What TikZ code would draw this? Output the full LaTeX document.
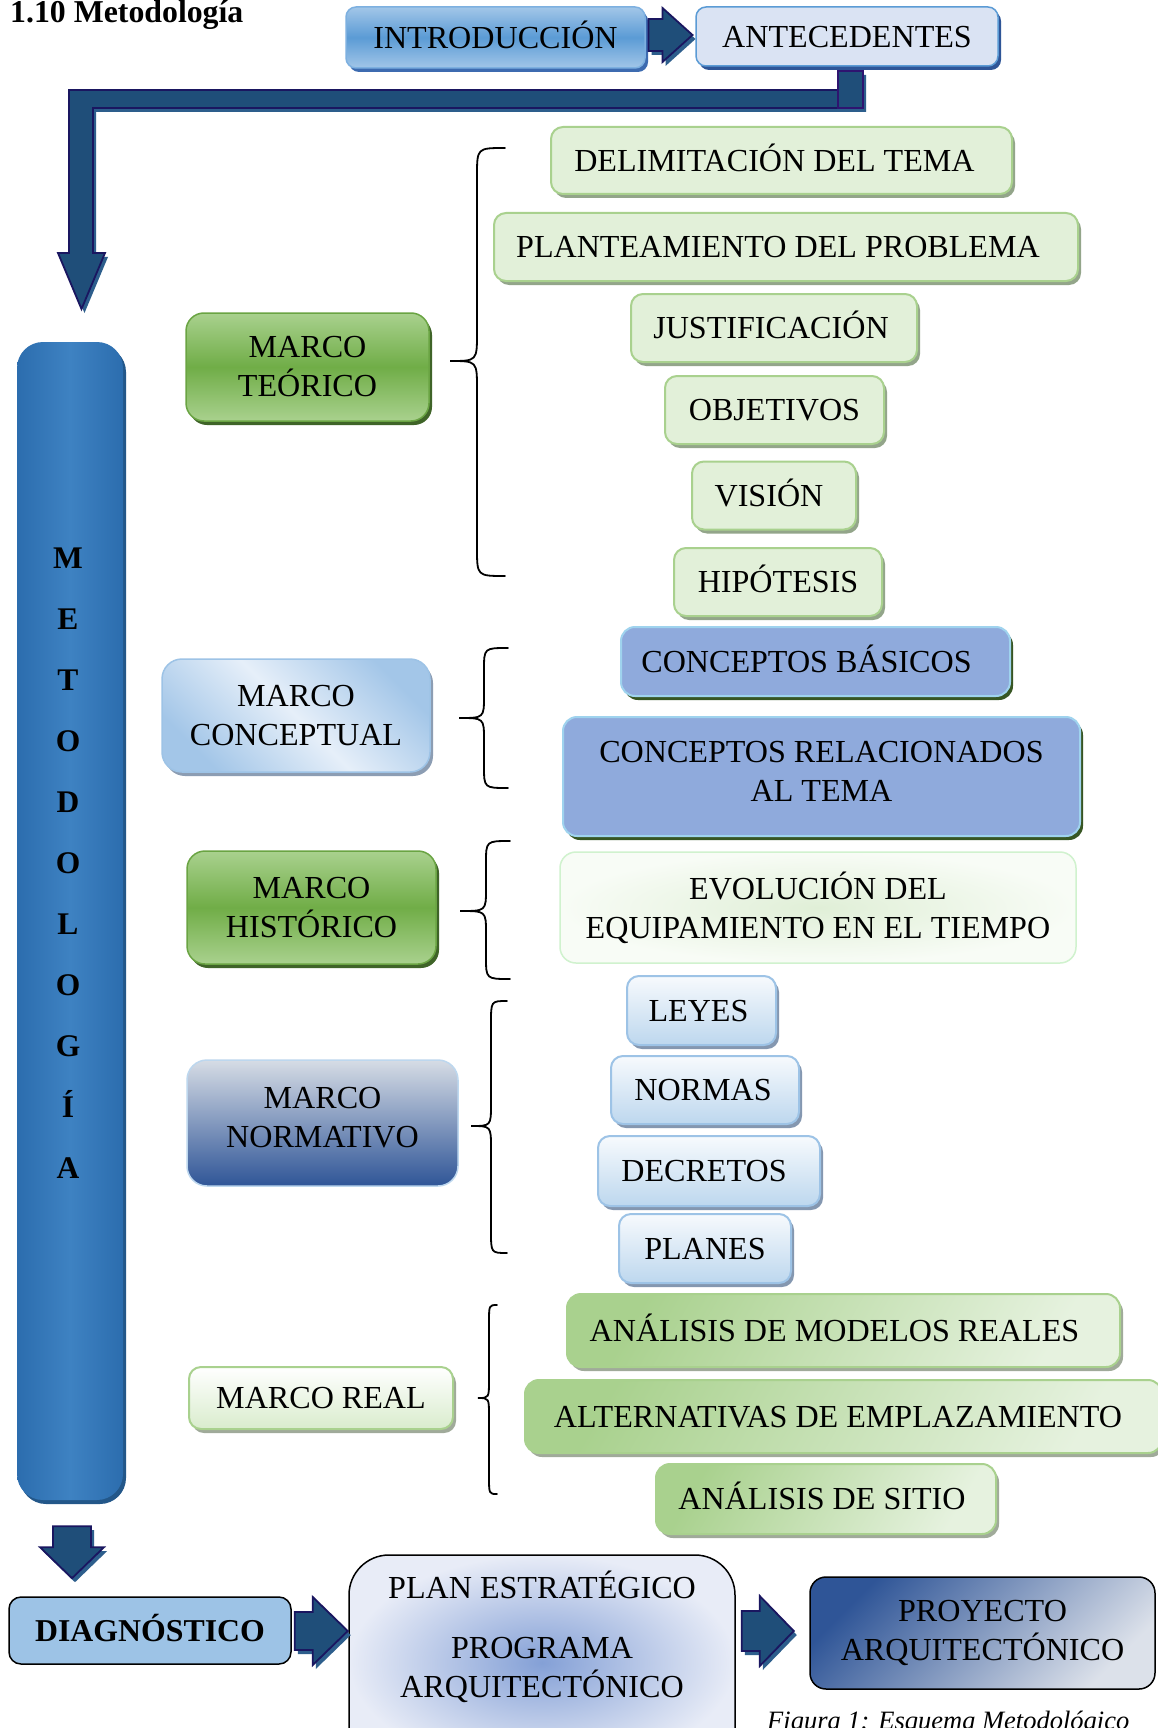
\documentclass[tikz,border=0pt]{standalone}
\usepackage{fontspec}
\setmainfont{Liberation Serif}
\usetikzlibrary{shadows,calc}
\definecolor{ArrFill}{HTML}{1F4E79}
\definecolor{ArrLine}{HTML}{1A1660}
\definecolor{ArrShad}{HTML}{2D5E8C}
\definecolor{Purp}{HTML}{2E1470}
\definecolor{IntroTop}{HTML}{A2C6E8}
\definecolor{IntroMid}{HTML}{5B9BD5}
\definecolor{IntroLine}{HTML}{7DB0E0}
\definecolor{IntroShad}{HTML}{3D6BB0}
\definecolor{AnteFill}{HTML}{DAE3F3}
\definecolor{AnteLine}{HTML}{5B9BD5}
\definecolor{AnteShad}{HTML}{2E5597}
\definecolor{GFill}{HTML}{E2F0D9}
\definecolor{GLine}{HTML}{A9D18E}
\definecolor{GShad}{HTML}{93A58A}
\definecolor{MGTop}{HTML}{A9D18E}
\definecolor{MGMid}{HTML}{70AD47}
\definecolor{MGLine}{HTML}{6AA443}
\definecolor{MGShad}{HTML}{3F6428}
\definecolor{CBFill}{HTML}{8FAADC}
\definecolor{CBLine}{HTML}{9FD3EE}
\definecolor{CBShad}{HTML}{375623}
\definecolor{MCLight}{HTML}{E6EFF9}
\definecolor{MCBlue}{HTML}{A3C6E8}
\definecolor{MCLine}{HTML}{9DC3E6}
\definecolor{MCShad}{HTML}{8C9DB3}
\definecolor{EvInner}{HTML}{E0EFD7}
\definecolor{EvOuter}{HTML}{F8FCF6}
\definecolor{EvLine}{HTML}{D0F2CE}
\definecolor{LTop}{HTML}{F7FAFD}
\definecolor{LBot}{HTML}{BDD7EE}
\definecolor{LLine}{HTML}{9DC3E6}
\definecolor{LShad}{HTML}{8497B0}
\definecolor{NTop}{HTML}{D6DCE5}
\definecolor{NBot}{HTML}{2F5597}
\definecolor{NLine}{HTML}{BDD7EE}
\definecolor{RTop}{HTML}{FFFFFF}
\definecolor{RBot}{HTML}{D9ECCD}
\definecolor{RShad}{HTML}{A0AA9A}
\definecolor{AGreen}{HTML}{A9D18E}
\definecolor{ALight}{HTML}{E6F2DF}
\definecolor{MetA}{HTML}{2C6DAE}
\definecolor{MetB}{HTML}{3E82C2}
\definecolor{MetShad}{HTML}{235789}
\definecolor{DiagFill}{HTML}{9DC3E6}
\definecolor{PlanOuter}{HTML}{E8ECF7}
\definecolor{PlanInner}{HTML}{84A0D6}
\definecolor{PTop}{HTML}{2F5597}
\definecolor{PBot}{HTML}{DCE1EA}

\newcommand{\rarrow}[5]{% #1 center, #2 half length, #3 head length, #4 shaft half, #5 head half
  \begin{scope}[shift={($(#1)+(3,4)$)}]
    \fill[arrshd] (-#2,-#4) -- (#2-#3,-#4) -- (#2-#3,-#5) -- (#2,0) -- (#2-#3,#5) -- (#2-#3,#4) -- (-#2,#4) -- cycle;
  \end{scope}
  \begin{scope}[shift={(#1)}]
    \draw[arrst] (-#2,-#4) -- (#2-#3,-#4) -- (#2-#3,-#5) -- (#2,0) -- (#2-#3,#5) -- (#2-#3,#4) -- (-#2,#4) -- cycle;
  \end{scope}}
\newcommand{\darrow}[5]{% #1 center, #2 half length, #3 head length, #4 shaft half, #5 head half
  \begin{scope}[shift={($(#1)+(3,4)$)}]
    \fill[arrshd] (-#4,-#2) -- (-#4,#2-#3) -- (-#5,#2-#3) -- (0,#2) -- (#5,#2-#3) -- (#4,#2-#3) -- (#4,-#2) -- cycle;
  \end{scope}
  \begin{scope}[shift={(#1)}]
    \draw[arrst] (-#4,-#2) -- (-#4,#2-#3) -- (-#5,#2-#3) -- (0,#2) -- (#5,#2-#3) -- (#4,#2-#3) -- (#4,-#2) -- cycle;
  \end{scope}}
\newcommand{\bracedraw}[7]{% xe xv xt ytop ytip ybot r
  \draw[bracel] (#1,#4) .. controls (#2,#4) .. (#2,#4+#7) -- (#2,#5-#7) .. controls (#2,#5) .. (#3,#5) .. controls (#2,#5) .. (#2,#5+#7) -- (#2,#6-#7) .. controls (#2,#6) .. (#1,#6);}

\begin{document}
\begin{tikzpicture}[x=1pt,y=-1pt,
  tx/.style={inner sep=0pt, font=\fontsize{32.1}{39}\selectfont},
  oneline/.style={text height=21.3pt, text depth=0pt},
  twoline/.style={align=center},
  sz/.style 2 args={minimum width=#1pt, minimum height=#2pt},
  shd/.style={drop shadow={shadow xshift=3pt, shadow yshift=-4pt, fill=#1, opacity=1}},
  introbox/.style={tx, rounded corners=10pt, draw=IntroLine, line width=1.5pt, top color=IntroTop, bottom color=IntroTop, middle color=IntroMid, shd=IntroShad},
  antebox/.style={tx, rounded corners=10pt, draw=AnteLine, line width=1.5pt, fill=AnteFill, shd=AnteShad},
  gbox/.style={tx, oneline, rounded corners=12pt, draw=GLine, line width=2pt, fill=GFill, shd=GShad},
  mgbox/.style={tx, twoline, rounded corners=18pt, draw=MGLine, line width=1.5pt, top color=MGTop, bottom color=MGTop, middle color=MGMid, shd=MGShad},
  cbbox/.style={tx, rounded corners=14pt, draw=CBLine, line width=2pt, fill=CBFill, shd=CBShad},
  mcbox/.style={tx, twoline, rounded corners=20pt, draw=MCLine, line width=1.5pt, top color=MCBlue, bottom color=MCBlue, middle color=MCLight, shading angle=-45, shd=MCShad},
  evbox/.style={tx, twoline, rounded corners=16pt, draw=EvLine, line width=1.5pt, inner color=EvInner, outer color=EvOuter},
  lbox/.style={tx, oneline, rounded corners=12pt, draw=LLine, line width=2pt, top color=LTop, bottom color=LBot, shd=LShad},
  nbox/.style={tx, twoline, rounded corners=20pt, draw=NLine, line width=1.5pt, top color=NTop, bottom color=NBot},
  rbox/.style={tx, oneline, rounded corners=12pt, draw=GLine, line width=2pt, top color=RTop, bottom color=RBot, shd=RShad},
  abox/.style={tx, oneline, rounded corners=14pt, draw=GLine, line width=2pt, top color=AGreen, bottom color=ALight, shading angle=60, shd=RShad},
  metbox/.style={rounded corners=26pt, left color=MetA, right color=MetA, middle color=MetB, shd=MetShad},
  letter/.style={tx, font=\fontsize{31.5}{39}\selectfont\bfseries, oneline},
  diagbox/.style={tx, font=\fontsize{31.8}{39}\selectfont\bfseries, oneline, rounded corners=12pt, draw=black, line width=1.5pt, fill=DiagFill},
  planbox/.style={rounded corners=40pt, draw=black, line width=1.5pt, inner color=PlanInner, outer color=PlanOuter},
  proybox/.style={tx, twoline, rounded corners=16pt, draw=black, line width=1.5pt, top color=PTop, bottom color=PBot, shading angle=45},
  bracel/.style={line width=1.8pt, line cap=round},
  arrst/.style={fill=ArrFill, draw=ArrLine, line width=1.8pt, line join=miter},
  arrshd/.style={fill=ArrShad}
]
\useasboundingbox (0,0) rectangle (1158,1728);
\clip (0,0) rectangle (1158,1728);
\fill[white] (0,0) rectangle (1158,1728);

% title
\node[tx, font=\fontsize{31.8}{37}\selectfont\bfseries, anchor=base west] (title) at (10,23) {1.10 Metodología};

% L connector from ANTECEDENTES down to METODOLOGIA
\begin{scope}[shift={(3,4)}]
  \fill[arrshd] (838,71) -- (863,71) -- (863,108) -- (93,108) -- (93,253) -- (105,253) -- (81.5,309) -- (58,253) -- (69,253) -- (69,90) -- (838,90) -- cycle;
\end{scope}
\draw[arrst] (838,71) -- (863,71) -- (863,108) -- (93,108) -- (93,253) -- (105,253) -- (81.5,309) -- (58,253) -- (69,253) -- (69,90) -- (838,90) -- cycle;
\draw[line width=2.5pt, draw=Purp, fill=ArrFill] (838,71) rectangle (863,108);

% top row
\node[introbox, oneline, sz={299}{61}] (intro) at (495.5,37.5) {INTRODUCCIÓN};
\node[antebox, oneline, sz={302}{59}] (ante) at (847,36.5) {ANTECEDENTES};
\coordinate (a1) at ($(intro.east)!0.5!(ante.west)+(0,-2)$);
\rarrow{a1}{22}{30}{16}{27}

% METODOLOGIA bar
\node[metbox, sz={106}{1158}] (met) at (70,921) {};
\foreach \l [count=\i] in {M,E,T,O,D,O,L,O,G,Í,A}
  \node[letter] (m\i) at (68,{557.5+61*(\i-1)}) {\l};

% Marco teorico
\node[mgbox, sz={243}{108}] (mteo) at (307.5,367) {MARCO\\TEÓRICO};
\bracedraw{505}{477}{450}{148}{361}{576}{28}
\node[gbox, sz={461}{67}] (delim) at (781.5,160.5) {DELIMITACIÓN DEL TEMA\hspace*{14pt}};
\node[gbox, sz={584}{68}] (plant) at (786,247) {PLANTEAMIENTO DEL PROBLEMA\hspace*{16pt}};
\node[gbox, sz={286}{68}] (just) at (774,328) {JUSTIFICACIÓN\hspace*{6pt}};
\node[gbox, sz={219}{68}] (obj) at (774.5,410) {OBJETIVOS};
\node[gbox, sz={164}{68}] (vis) at (774,495.5) {VISIÓN\hspace*{10pt}};
\node[gbox, sz={208}{68}] (hip) at (778,582) {HIPÓTESIS};

% Marco conceptual
\node[mcbox, sz={268}{113}] (mconc) at (296,715.5) {MARCO\\CONCEPTUAL};
\bracedraw{508}{484}{459}{648}{718}{788}{22}
\node[cbbox, oneline, sz={389}{69}] (cbas) at (815.5,661.5) {CONCEPTOS BÁSICOS\hspace*{18pt}};
\node[cbbox, twoline, sz={517}{119}] (crel) at (821.5,776.5) {CONCEPTOS RELACIONADOS\\AL TEMA\rule[-10pt]{0pt}{0pt}};

% Marco historico
\node[mgbox, sz={249}{113}] (mhist) at (311.5,907.5) {MARCO\\HISTÓRICO};
\bracedraw{510}{486}{460}{841}{911}{979}{22}
\node[evbox, sz={516}{111}] (evol) at (818,907.5) {EVOLUCIÓN DEL\\EQUIPAMIENTO EN EL TIEMPO};

% Marco normativo
\node[nbox, sz={271}{126}] (mnorm) at (322.5,1123) {MARCO\\NORMATIVO\rule[-12pt]{0pt}{0pt}};
\bracedraw{507}{491}{471}{1001}{1126}{1253}{22}
\node[lbox, sz={149}{69}] (leyes) at (701.5,1010.5) {LEYES\hspace*{6pt}};
\node[lbox, sz={188}{68}] (normas) at (705,1090) {NORMAS\hspace*{4pt}};
\node[lbox, sz={222}{70}] (decretos) at (709,1171) {DECRETOS\hspace*{10pt}};
\node[lbox, sz={172}{69}] (planes) at (705,1248.5) {PLANES};

% Marco real
\node[rbox, sz={264}{62}] (mreal) at (321,1398) {MARCO REAL};
\bracedraw{497}{489}{478}{1305}{1398}{1494}{18}
\node[abox, sz={553}{73}] (amr) at (843.5,1330.5) {ANÁLISIS DE MODELOS REALES\hspace*{18pt}};
\node[abox, sz={637}{73}] (alt) at (843.5,1416.5) {\hspace*{-11pt}ALTERNATIVAS DE EMPLAZAMIENTO};
\node[abox, sz={340}{70}] (asit) at (826,1499) {ANÁLISIS DE SITIO\hspace*{8pt}};

% bottom row
\node[diagbox, sz={282}{67}] (diag) at (150,1630.5) {DIAGNÓSTICO};
\coordinate (a0) at ($(met.south)+(2,52)$);
\darrow{a0}{26}{31}{19}{32}

\node[planbox, sz={386}{215}] (plan) at (542,1662.5) {};
\node[tx, anchor=base] (plan1) at (542,1598) {PLAN ESTRATÉGICO};
\node[tx, anchor=base] (plan2) at (542,1658) {PROGRAMA};
\node[tx, anchor=base] (plan3) at (542,1697) {ARQUITECTÓNICO};

\node[proybox, sz={345}{112}] (proy) at (982.5,1633) {PROYECTO\\ARQUITECTÓNICO};

\coordinate (a2) at ($(diag.east)+(29.5,0.5)$);
\rarrow{a2}{26.5}{35}{19}{34}
\coordinate (a3) at ($(plan.east|-proy.west)+(32,-2)$);
\rarrow{a3}{26}{34}{20}{35}

\node[inner sep=0pt, font=\fontsize{26.5}{30}\selectfont\itshape, anchor=base west] (caption) at (767,1729) {Figura 1: Esquema Metodológico};
\end{tikzpicture}
\end{document}
